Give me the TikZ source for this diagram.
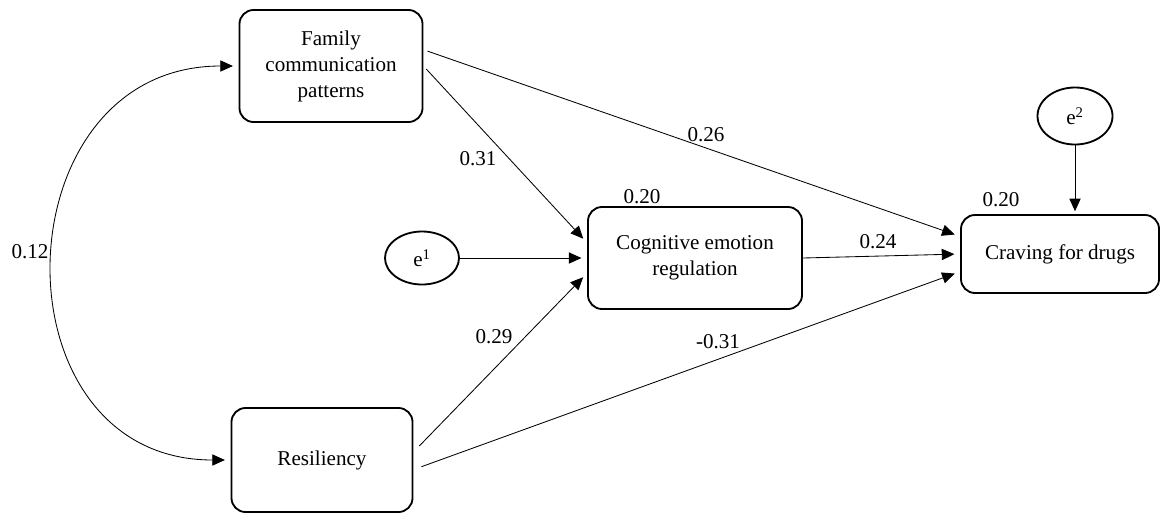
\documentclass[tikz,border=0pt]{standalone}
\usepackage{fontspec}
\setmainfont{Liberation Serif}
\usetikzlibrary{arrows.meta,shapes.geometric}

\begin{document}
\begin{tikzpicture}[x=0.025cm,y=-0.025cm,
    font=\fontsize{15}{18.5}\selectfont,
    var/.style={draw,line width=1.3pt,rounded corners=10pt,align=center,inner sep=2pt},
    err/.style={draw,ellipse,line width=1.3pt,inner sep=0pt},
    tip/.tip={Triangle[length=9pt,width=8pt]},
    path/.style={line width=0.6pt,-tip,shorten >=4pt},
    coef/.style={inner sep=1pt}]
        \useasboundingbox (0,0) rectangle (1161,514);
        % Variables
        \node[var,minimum width=4.575cm,minimum height=2.8cm] (fam) at (331,66) {Family\\communication\\patterns};
        \node[var,minimum width=4.525cm,minimum height=2.6cm] (res) at (322,460) {Resiliency};
        \node[var,minimum width=5.35cm,minimum height=2.55cm] (cog) at (695,258) {Cognitive emotion\\regulation};
        \node[var,minimum width=4.95cm,minimum height=1.95cm] (crav) at (1060,254) {Craving for drugs};
        % Errors
        \node[err,minimum width=1.85cm,minimum height=1.325cm] (e1) at (422,258) {e\textsuperscript{1}};
        \node[err,minimum width=1.875cm,minimum height=1.425cm] (e2) at (1075,116) {e\textsuperscript{2}};
        % Paths
        \draw[path,shorten <=3pt] (fam.10) -- (crav.170);
        \draw[path,shorten <=3pt] (fam.east) -- (cog.172);
        \draw[path] (e1.east) -- (cog.west);
        \draw[path,shorten <=6pt] (res.5) -- (cog.188);
        \draw[path,shorten <=6pt] (res.-6) -- (crav.190);
        \draw[path] (cog.east) -- (crav.west);
        \draw[path,shorten >=2pt] (e2.south) -- (e2.south |- crav.north);
        % Covariance
        \draw[line width=0.6pt,tip-tip,shorten <=4pt,shorten >=4pt]
            (fam.west) .. controls +(-240,0) and +(-240,0) .. (res.west);
        % Coefficients
        \node[coef] (c1) at (30,252) {0.12};
        \node[coef] (c2) at (478,159) {0.31};
        \node[coef] (c3) at (706,135) {0.26};
        \node[coef] (c4) at (642,197) {0.20};
        \node[coef] (c5) at (1001,200) {0.20};
        \node[coef] (c6) at (878,242) {0.24};
        \node[coef] (c7) at (494,337) {0.29};
        \node[coef] (c8) at (718,342) {-0.31};
    \end{tikzpicture}
\end{document}
